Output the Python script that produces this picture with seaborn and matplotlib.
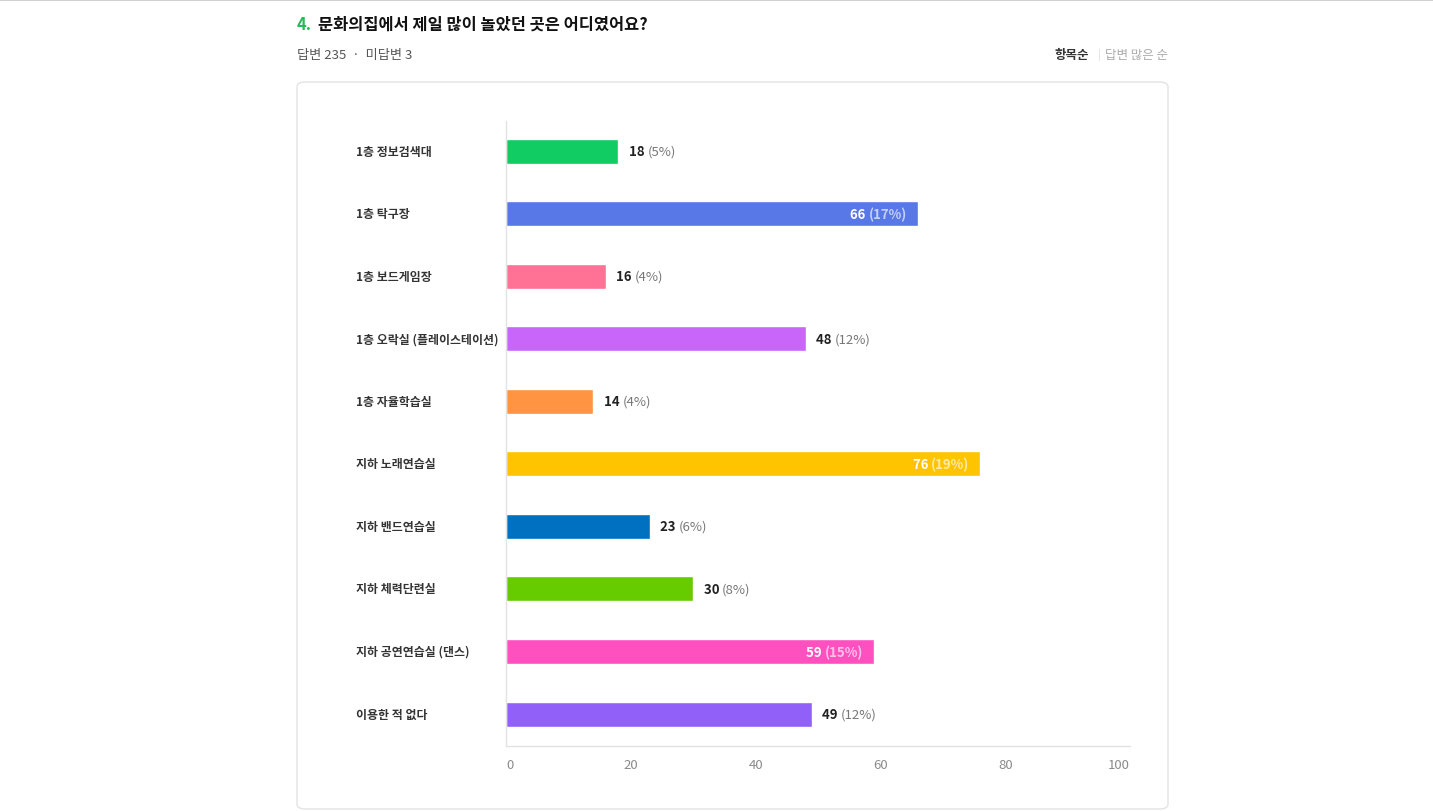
import numpy as np
import pandas as pd
import matplotlib
matplotlib.use("Agg")
import matplotlib.pyplot as plt
from matplotlib.patches import FancyBboxPatch
from matplotlib.transforms import blended_transform_factory
import seaborn as sns

# data
places = ["1층 정보검색대", "1층 탁구장", "1층 보드게임장", "1층 오락실 (플레이스테이션)",
          "1층 자율학습실", "지하 노래연습실", "지하 밴드연습실", "지하 체력단련실",
          "지하 공연연습실 (댄스)", "이용한 적 없다"]
counts = [18, 66, 16, 48, 14, 76, 23, 30, 59, 49]
percents = ["5%", "17%", "4%", "12%", "4%", "19%", "6%", "8%", "15%", "12%"]
inside = [False, True, False, False, False, True, False, False, True, False]
bar_colors = ["#10CC62", "#5878E8", "#FF7296", "#C866FA", "#FF9442",
              "#FFC400", "#0070C0", "#66CC00", "#FF50C0", "#9160F8"]
x_ticks = [0, 20, 40, 60, 80, 100]

sns.set_theme(style="white")
plt.rcParams["font.family"] = ["Noto Sans CJK KR", "DejaVu Sans"]

W, H = 1433, 812
fig = plt.figure(figsize=(W / 100, H / 100), dpi=100)
fig.patch.set_facecolor("white")

def fx(px):
    return px / W

def fy(py):
    return 1 - py / H

# card background
card = FancyBboxPatch((fx(297), fy(810)), fx(1168) - fx(297), fy(83) - fy(810),
                      boxstyle="round,pad=0,rounding_size=0.006",
                      transform=fig.transFigure, facecolor="white",
                      edgecolor="#e3e3e3", linewidth=1.0, zorder=-5)
fig.patches.append(card)
fig.add_artist(plt.Line2D([0, 1], [fy(0.5), fy(0.5)], color="#c8c8c8", lw=1.2,
                          transform=fig.transFigure))

# header
fig.text(fx(297), fy(25), "4.", color="#22BB55", fontsize=11.8,
         fontweight="bold", va="center", ha="left")
fig.text(fx(318), fy(25), "문화의집에서 제일 많이 놀았던 곳은 어디였어요?", color="#111111",
         fontsize=11.8, fontweight="heavy", va="center", ha="left")
fig.text(fx(297), fy(55), "답변 235  ·  미답변 3", color="#555555", fontsize=9.5,
         fontweight="medium", va="center", ha="left")
fig.text(fx(1168), fy(55), "답변 많은 순", color="#aaaaaa", fontsize=9,
         va="center", ha="right")
fig.text(fx(1099), fy(55), "|", color="#dddddd", fontsize=8, va="center", ha="center")
fig.text(fx(1089), fy(55), "항목순", color="#333333", fontsize=9,
         fontweight="bold", va="center", ha="right")

# chart
ax = fig.add_axes([fx(506), fy(747), fx(1130) - fx(506), fy(122) - fy(747)])
ax.set_zorder(2)
ax.patch.set_alpha(0)
df = pd.DataFrame({"place": places, "count": counts})
sns.barplot(data=df, x="count", y="place", hue="place", palette=bar_colors,
            orient="h", width=0.4, legend=False, ax=ax, saturation=1)

ax.set_xlim(0, 100)
ax.set_ylim(9.51, -0.48)
ax.set_xticks(x_ticks)
ax.set_xticklabels([str(t) for t in x_ticks], color="#8a8a8a", fontsize=9.5)
labs = ax.get_xticklabels()
labs[0].set_ha("left")
labs[-1].set_ha("right")
ax.tick_params(axis="x", length=0, pad=9)
ax.set_yticks([])
ax.set_xlabel("")
ax.set_ylabel("")
for s in ["top", "right"]:
    ax.spines[s].set_visible(False)
for s in ["left", "bottom"]:
    ax.spines[s].set_color("#e2e2e2")
    ax.spines[s].set_linewidth(1.0)

# category labels to the left
tr = blended_transform_factory(fig.transFigure, ax.transData)
for i, name in enumerate(places):
    ax.text(fx(356), i, name, transform=tr, fontsize=8.6, color="#333333",
            fontweight="bold", ha="left", va="center")

# value labels
for i, (c, p, inn) in enumerate(zip(counts, percents, inside)):
    if inn:
        tp = ax.annotate(f"({p})", xy=(c, i), xytext=(-8, 0),
                         textcoords="offset points", ha="right", va="center",
                         fontsize=9.5, color=(1, 1, 1, 0.65), fontweight="bold")
        ax.annotate(f"{c} ", xy=(0, 0.5), xycoords=tp, ha="right", va="center",
                    fontsize=9.5, color="white", fontweight="bold")
    else:
        tc = ax.annotate(f"{c} ", xy=(c, i), xytext=(7.5, 0),
                         textcoords="offset points", ha="left", va="center",
                         fontsize=9.5, color="#222222", fontweight="bold")
        ax.annotate(f"({p})", xy=(1, 0.5), xycoords=tc, ha="left", va="center",
                    fontsize=9.5, color="#777777")

fig.savefig("out.png", dpi=100, facecolor="white")
